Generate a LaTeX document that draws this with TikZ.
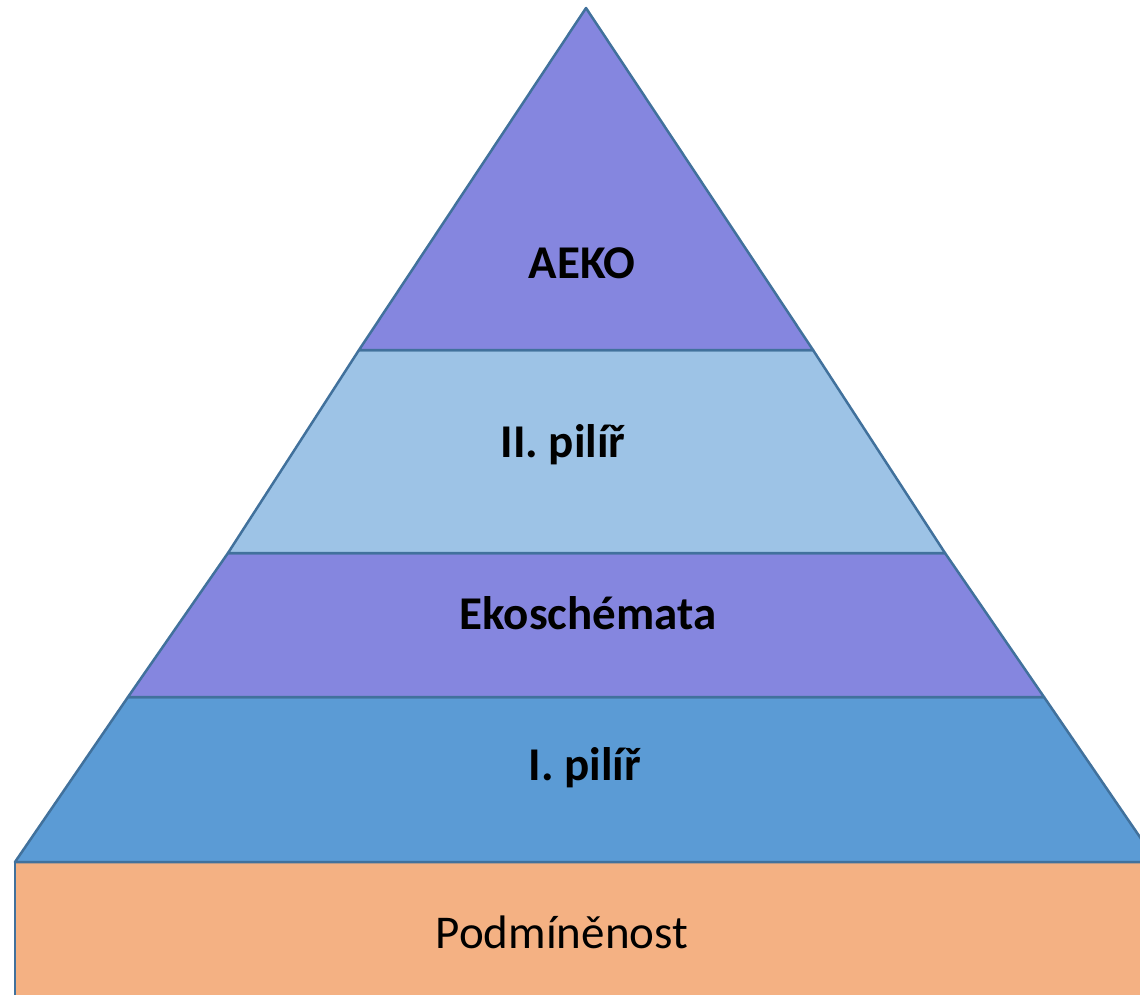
\documentclass[tikz,border=0pt]{standalone}
\usepackage{fontspec}
\setmainfont{Carlito}
\definecolor{edge}{HTML}{41719C}
\definecolor{purp}{HTML}{8586DF}
\definecolor{lblue}{HTML}{9DC3E6}
\definecolor{mblue}{HTML}{5B9BD5}
\definecolor{orng}{HTML}{F4B183}
\tikzset{
  layer/.style={draw=edge, line width=2.5pt, line join=round},
  lbl/.style={font=\fontsize{47}{50}\selectfont\bfseries, text=black},
  lblr/.style={font=\fontsize{47}{50}\selectfont, text=black}
}
\begin{document}
\begin{tikzpicture}[x=1pt,y=-1pt]
\useasboundingbox (0,0) rectangle (1140,995);
\begin{scope}
\clip (0,0) rectangle (1140,995);
\draw[layer, fill=orng] (15,862) rectangle (1175,1010);
\draw[layer, fill=mblue] (15,862) -- (128,697) -- (1044,697) -- (1157,862) -- cycle;
\draw[layer, fill=purp] (128,697) -- (228,553) -- (945,553) -- (1044,697) -- cycle;
\draw[layer, fill=lblue] (228,553) -- (359,350) -- (813,350) -- (945,553) -- cycle;
\draw[layer, fill=purp] (359,350) -- (586,8) -- (813,350) -- cycle;
\end{scope}
\node[lbl] (aeko) at (582,263) {AEKO};
\node[lbl] (p2) at (563,445) {II. pilíř};
\node[lbl] (eko) at (588,613) {Ekoschémata};
\node[lbl] (p1) at (585,768) {I. pilíř};
\node[lblr] (pod) at (562,932) {Podmíněnost};
\end{tikzpicture}
\end{document}
